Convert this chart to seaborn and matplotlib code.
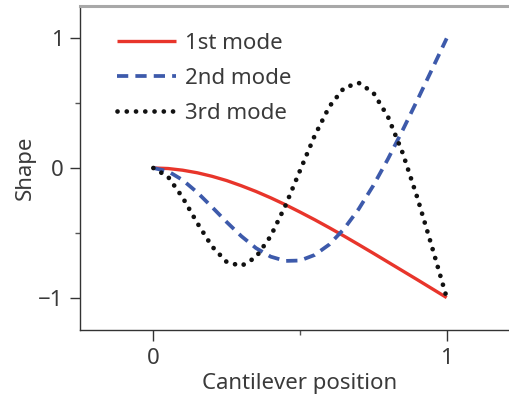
import matplotlib
matplotlib.use("Agg")
import matplotlib.pyplot as plt
import seaborn as sns
import pandas as pd

# Normalised beam deflection along the cantilever
position = [0.00, 0.05, 0.10, 0.15, 0.20, 0.25, 0.30, 0.35, 0.40, 0.45, 0.50,
            0.55, 0.60, 0.65, 0.70, 0.75, 0.80, 0.85, 0.90, 0.95, 1.00]
mode1 = [0.000, -0.004, -0.017, -0.037, -0.064, -0.097, -0.137, -0.181, -0.230, -0.283, -0.340,
         -0.399, -0.461, -0.525, -0.591, -0.658, -0.726, -0.794, -0.862, -0.931, -1.000]
mode2 = [0.000, -0.025, -0.093, -0.189, -0.301, -0.417, -0.526, -0.618, -0.684, -0.717, -0.714,
         -0.671, -0.590, -0.470, -0.317, -0.135, 0.070, 0.292, 0.524, 0.761, 1.000]
mode3 = [0.000, -0.067, -0.228, -0.425, -0.605, -0.725, -0.756, -0.688, -0.526, -0.292, -0.020,
         0.249, 0.474, 0.618, 0.657, 0.581, 0.395, 0.116, -0.229, -0.609, -1.000]
labels = ["1st mode", "2nd mode", "3rd mode"]
x_ticks = [0, 1]
y_ticks = [-1, 0, 1]

sns.set_style("ticks")
plt.rcParams["font.family"] = ["Noto Sans", "DejaVu Sans"]
text_col = "#3a3a3a"

fig = plt.figure(figsize=(5.09, 4.0), dpi=100)
ax = fig.add_axes([80 / 509, 70 / 400, 440 / 509, 324 / 400])

df = pd.DataFrame({"x": position, labels[0]: mode1, labels[1]: mode2, labels[2]: mode3})

sns.lineplot(data=df, x="x", y=labels[0], ax=ax, color="#e8352b", lw=2.4, label=labels[0])
sns.lineplot(data=df, x="x", y=labels[1], ax=ax, color="#3d5aab", lw=2.7, label=labels[1])
sns.lineplot(data=df, x="x", y=labels[2], ax=ax, color="#111111", lw=3.4, label=labels[2])

l1, l2, l3 = ax.lines[:3]
l1.set_solid_capstyle("butt")
l2.set_dashes((3.0, 1.9))
l2.set_dash_capstyle("butt")
l3.set_dashes((0.01, 1.95))
l3.set_dash_capstyle("round")

ax.set_xlim(-0.25, 1.25)
ax.set_ylim(-1.25, 1.25)
ax.set_xticks(x_ticks)
ax.set_yticks(y_ticks)
ax.set_xticks([0.5], minor=True)
ax.set_yticks([-0.5, 0.5], minor=True)
ax.set_xticklabels(["0", "1"])
ax.set_yticklabels(["\u22121", "0", "1"])
ax.tick_params(axis="both", which="major", labelsize=16, colors="#333333",
               labelcolor=text_col, width=1.0, length=7, pad=5, direction="out")
ax.tick_params(axis="x", which="major", length=8)
ax.tick_params(axis="both", which="minor", width=1.0, length=3.5, colors="#555555", direction="out")

for side in ("left", "bottom"):
    ax.spines[side].set_color("#333333")
    ax.spines[side].set_linewidth(1.0)
ax.spines["top"].set_color("#a8a8a8")
ax.spines["top"].set_linewidth(2.2)
ax.spines["right"].set_visible(False)

ax.set_xlabel("Cantilever position", fontsize=16, color=text_col, labelpad=3)
ax.set_ylabel("Shape", fontsize=16, color=text_col, labelpad=1.5)

leg = ax.legend(handles=[l1, l2, l3], labels=labels, loc="upper left",
                bbox_to_anchor=(0.054, 0.957), frameon=False, fontsize=16,
                handlelength=2.65, handletextpad=0.4, labelspacing=0.63,
                borderaxespad=0.2)
for t in leg.get_texts():
    t.set_color(text_col)

fig.savefig("out.png", dpi=100)
